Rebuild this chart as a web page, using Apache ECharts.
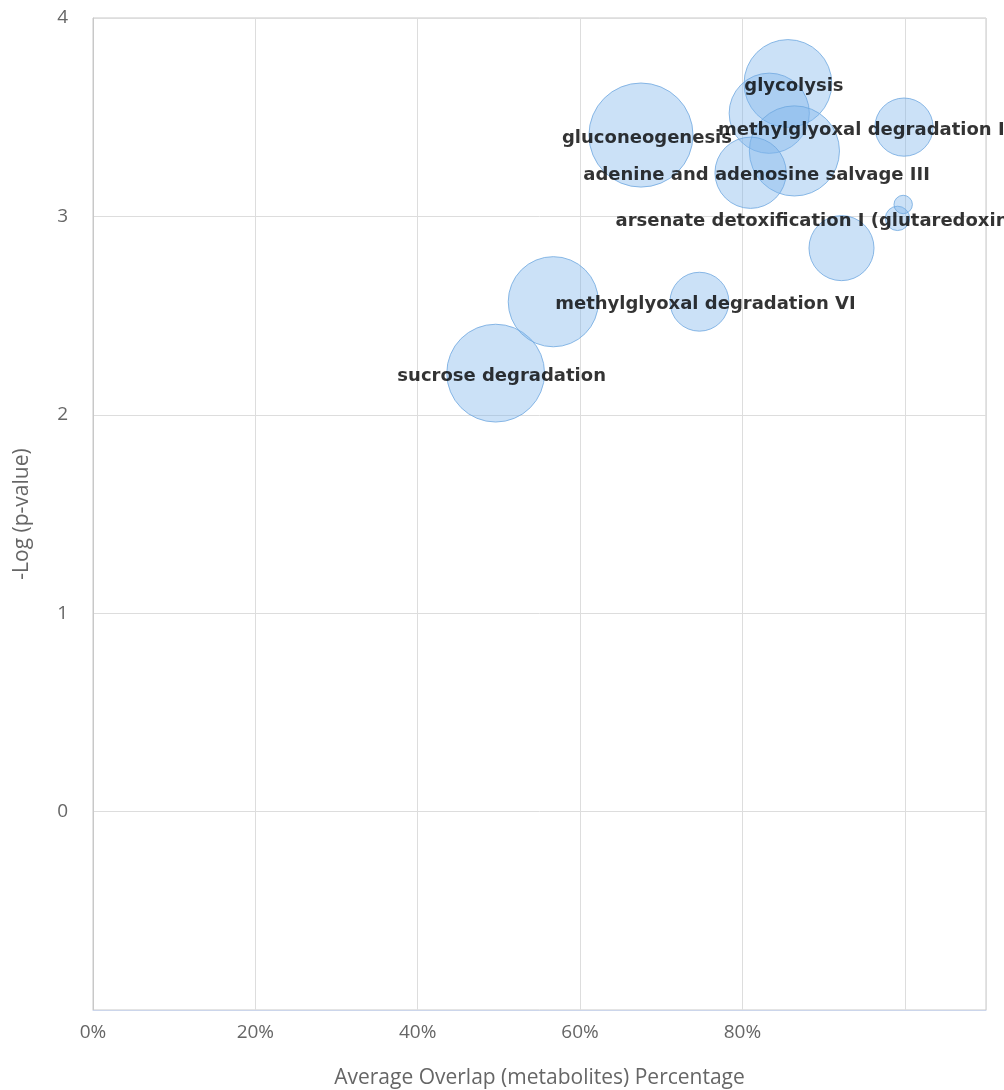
<!DOCTYPE html>
<html>
<head>
<meta charset="utf-8">
<script src="https://cdn.jsdelivr.net/npm/echarts@6/dist/echarts.min.js"></script>
<style>
  html, body { margin: 0; padding: 0; background: #fff; }
  #chart { width: 1004px; height: 1090px; }
</style>
</head>
<body>
<div id="chart"></div>
<script>
// pathway names (empty = label not shown in the picture)
const names = [
  'sucrose degradation', '', 'methylglyoxal degradation VI', 'gluconeogenesis',
  'glycolysis', '', '', 'adenine and adenosine salvage III',
  'methylglyoxal degradation III', '', 'arsenate detoxification I (glutaredoxin)', ''
]
// average overlap (%)
const overlap = [49.6, 56.7, 74.7, 67.5, 85.6, 83.3, 86.4, 81.0, 99.9, 92.2, 99.1, 99.8]
// -log(p-value)
const logP = [2.21, 2.57, 2.57, 3.41, 3.67, 3.52, 3.33, 3.22, 3.45, 2.84, 2.99, 3.06]
// bubble size value
const sizes = [113, 96, 41, 128, 91, 76, 96, 60, 40, 50, 7, 4]

const xTicks = [0, 20, 40, 60, 80]

let myChart = echarts.init(document.getElementById('chart'))

// labels running off the right side are pushed left (like the original)
const shiftLeft = {
  'methylglyoxal degradation III': -186,
  'arsenate detoxification I (glutaredoxin)': -282
}

const data = names.map((n, i) => {
  let item = { name: n, value: [overlap[i], logP[i], sizes[i]] }
  if (!n) {
    item.label = { show: false }
  } else if (shiftLeft[n] !== undefined) {
    item.label = { align: 'left', offset: [shiftLeft[n], 3] }
  }
  return item
})

const axisFont = "'Open Sans', sans-serif"

myChart.setOption({
  animation: false,
  grid: {
    left: 93,
    right: 18,
    top: 18,
    bottom: 80,
    outerBoundsMode: 'none',
    containLabel: false,
    show: true,
    borderColor: '#c8c8c8',
    borderWidth: 1
  },
  xAxis: {
    type: 'value',
    min: 0,
    max: 110,
    interval: 20,
    name: 'Average Overlap (metabolites) Percentage',
    nameLocation: 'middle',
    nameGap: 58,
    nameTextStyle: { color: '#666', fontSize: 21, fontFamily: axisFont },
    axisLine: { show: true, onZero: false, lineStyle: { color: '#ccd6eb' } },
    axisTick: { show: false },
    axisLabel: {
      color: '#666',
      fontSize: 19,
      fontFamily: axisFont,
      margin: 13,
      formatter: v => xTicks.includes(v) ? v + '%' : ''
    },
    splitLine: { show: true, lineStyle: { color: '#dddddd' } }
  },
  yAxis: {
    type: 'value',
    min: -1,
    max: 4,
    interval: 1,
    name: '-Log (p-value)',
    nameLocation: 'middle',
    nameGap: 60,
    nameTextStyle: { color: '#666', fontSize: 21, fontFamily: axisFont },
    axisLine: { show: true, lineStyle: { color: '#c8c8c8' } },
    axisTick: { show: false },
    axisLabel: {
      color: '#666',
      fontSize: 19,
      fontFamily: axisFont,
      margin: 25,
      formatter: v => v < 0 ? '' : String(v)
    },
    splitLine: { show: true, lineStyle: { color: '#dddddd' } }
  },
  series: [
    {
      type: 'scatter',
      data: data,
      symbolSize: val => 2 * 4.6 * Math.sqrt(val[2]),
      itemStyle: {
        color: 'rgba(124, 181, 236, 0.5)',
        borderColor: '#6fa8e0',
        borderWidth: 1
      },
      emphasis: { disabled: true },
      label: {
        show: true,
        position: 'inside',
        offset: [6, 3],
        formatter: p => p.name,
        color: '#000',
        fontSize: 18,
        fontWeight: 'bold',
        fontFamily: "'DejaVu Sans', sans-serif"
      }
    }
  ]
})
</script>
</body>
</html>
